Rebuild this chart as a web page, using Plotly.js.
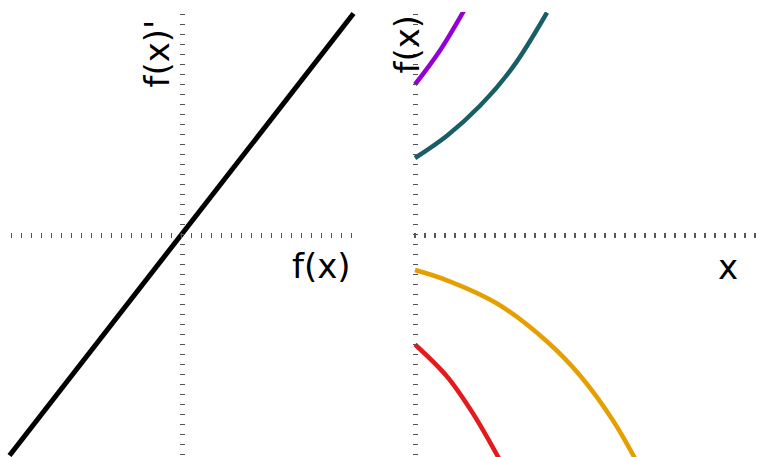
<!DOCTYPE html>
<html>
<head>
<meta charset="utf-8">
<script src="https://cdn.plot.ly/plotly-3.0.1.min.js"></script>
<style>
  html, body { margin: 0; padding: 0; background: #fff; }
  #chart { width: 757px; height: 457px; }
</style>
</head>
<body>
<div id="chart"></div>
<script>
// Phase line: f(x)' against f(x)
const phaseF = [-1.72, 1.72];
const phaseDF = [-2.21, 2.21];

// Solution curves f(x) against x, one per starting value
const purpleX = [0, 0.25, 0.49];
const purpleY = [1.5, 1.84, 2.24];

const tealX = [0, 0.32, 0.65, 0.98, 1.32];
const tealY = [0.765, 0.988, 1.287, 1.676, 2.22];

const orangeX = [0, 0.32, 0.82, 1.32, 1.65, 1.98, 2.2];
const orangeY = [-0.355, -0.458, -0.69, -1.07, -1.41, -1.86, -2.24];

const redX = [0, 0.32, 0.58, 0.84];
const redY = [-1.1, -1.42, -1.79, -2.24];

// Axis titles
const leftXTitle = 'f(x)';
const leftYTitle = "f(x)'";
const rightXTitle = 'x';
const rightYTitle = 'f(x)';

// ---- geometry (pixels in a 757 x 457 figure) ----
const W = 757, H = 457;
const fx = px => px / W;          // pixel x -> paper x
const fy = py => 1 - py / H;      // pixel y -> paper y

const TICK = {
  ticks: 'outside', ticklen: 5, tickwidth: 1.5, tickcolor: '#555',
  tick0: 0, dtick: 0.1,
  showticklabels: false, showgrid: false, zeroline: false, showline: false,
  fixedrange: true
};

const FONT = { family: 'DejaVu Sans, sans-serif', size: 34, color: '#000' };

const traces = [
  { x: phaseF, y: phaseDF, xaxis: 'x', yaxis: 'y', mode: 'lines',
    line: { color: '#000000', width: 5 }, hoverinfo: 'skip' },
  { x: purpleX, y: purpleY, xaxis: 'x2', yaxis: 'y2', mode: 'lines',
    line: { color: '#9400d3', width: 4.5, shape: 'spline' }, hoverinfo: 'skip' },
  { x: tealX, y: tealY, xaxis: 'x2', yaxis: 'y2', mode: 'lines',
    line: { color: '#185f65', width: 4.5, shape: 'spline' }, hoverinfo: 'skip' },
  { x: orangeX, y: orangeY, xaxis: 'x2', yaxis: 'y2', mode: 'lines',
    line: { color: '#e69f00', width: 4.5, shape: 'spline' }, hoverinfo: 'skip' },
  { x: redX, y: redY, xaxis: 'x2', yaxis: 'y2', mode: 'lines',
    line: { color: '#e41a1c', width: 4.5, shape: 'spline' }, hoverinfo: 'skip' }
];

const layout = {
  width: W, height: H,
  margin: { l: 0, r: 0, t: 0, b: 0, pad: 0 },
  paper_bgcolor: '#ffffff', plot_bgcolor: 'rgba(0,0,0,0)',
  showlegend: false,
  xaxis: Object.assign({}, TICK, {
    range: [-1.75, 1.75], domain: [fx(6.5), fx(356.5)],
    anchor: 'free', position: fy(232), side: 'bottom'
  }),
  yaxis: Object.assign({}, TICK, {
    range: [-2.225, 2.225], domain: [0, fy(12)],
    anchor: 'free', position: fx(184.5), side: 'left'
  }),
  xaxis2: Object.assign({}, TICK, {
    range: [-0.03, 3.42], domain: [fx(412), 1],
    anchor: 'free', position: fy(232), side: 'bottom'
  }),
  yaxis2: Object.assign({}, TICK, {
    range: [-2.225, 2.225], domain: [0, fy(12)],
    anchor: 'free', position: fx(417.5), side: 'left'
  }),
  annotations: [
    { text: leftXTitle, xref: 'paper', yref: 'paper', x: fx(321), y: fy(266),
      xanchor: 'center', yanchor: 'middle', showarrow: false, font: FONT },
    { text: leftYTitle, xref: 'paper', yref: 'paper', x: fx(156.5), y: fy(54),
      xanchor: 'center', yanchor: 'middle', textangle: -90, showarrow: false, font: FONT },
    { text: rightXTitle, xref: 'paper', yref: 'paper', x: fx(727.5), y: fy(267),
      xanchor: 'center', yanchor: 'middle', showarrow: false, font: FONT },
    { text: rightYTitle, xref: 'paper', yref: 'paper', x: fx(406.5), y: fy(44),
      xanchor: 'center', yanchor: 'middle', textangle: -90, showarrow: false, font: FONT }
  ]
};

Plotly.newPlot('chart', traces, layout, { displayModeBar: false, staticPlot: true });
</script>
</body>
</html>
